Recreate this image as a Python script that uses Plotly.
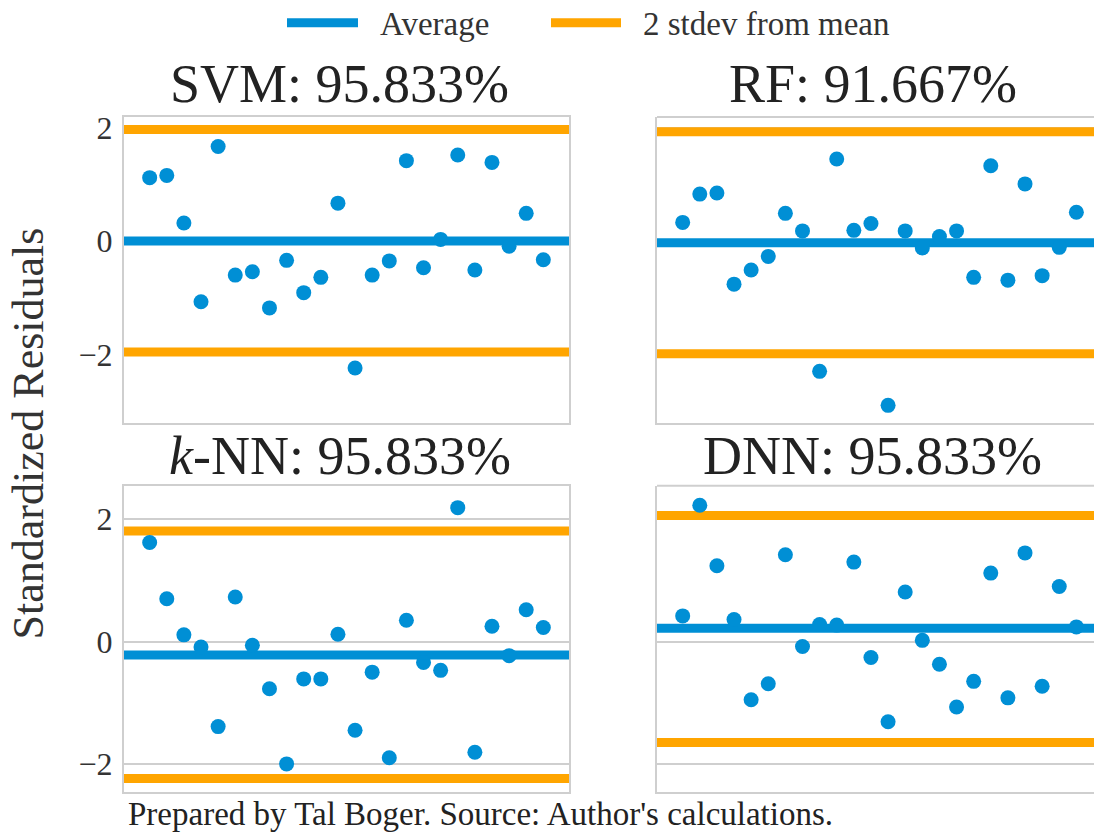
import plotly.graph_objects as go

W, H = 1094, 833
BLUE = "#008fd5"
ORANGE = "#ffa500"
GRID = "#cfcfcf"
FONT = "Liberation Serif, Times New Roman, serif"
TXT = "#2a2a2a"

obs = list(range(1, 25))

svm = [1.12, 1.16, 0.32, -1.07, 1.67, -0.60, -0.54, -1.18, -0.34, -0.91, -0.64, 0.67,
       -2.24, -0.60, -0.35, 1.42, -0.47, 0.03, 1.52, -0.51, 1.39, -0.09, 0.49, -0.33]
rf = [0.33, 0.83, 0.85, -0.76, -0.51, -0.27, 0.49, 0.18, -2.30, 1.45, 0.19, 0.31,
      -2.90, 0.18, -0.12, 0.08, 0.18, -0.64, 1.33, -0.69, 1.01, -0.61, -0.11, 0.51]
knn = [1.62, 0.70, 0.11, -0.09, -1.39, 0.73, -0.06, -0.77, -2.00, -0.61, -0.61, 0.12,
       -1.45, -0.50, -1.90, 0.35, -0.34, -0.47, 2.19, -1.81, 0.25, -0.23, 0.52, 0.23]
dnn = [0.42, 2.23, 1.24, 0.36, -0.95, -0.69, 1.42, -0.08, 0.28, 0.27, 1.30, -0.26,
       -1.31, 0.81, 0.02, -0.37, -1.07, -0.65, 1.12, -0.92, 1.45, -0.73, 0.90, 0.24]

titles = ["SVM: 95.833%", "RF: 91.667%", "<i>k</i>-NN: 95.833%", "DNN: 95.833%"]
averages = [0.00, -0.03, -0.22, 0.22]
upper = [1.97, 1.93, 1.81, 2.06]
lower = [-1.96, -1.99, -2.24, -1.65]
ytick_vals = [-2, 0, 2]
ytick_text = ["−2", "0", "2"]

series = [svm, rf, knn, dnn]


def px_x(p):
    return p / W


def px_y(p):
    return 1 - p / H


xdom = [[px_x(124), px_x(569)], [px_x(657), 1.0]]
ydom = [[px_y(420), px_y(111)], [px_y(791.7), px_y(482.7)]]
xranges = [[-0.5, 25.5], [-0.5, 25.03]]
yranges = [[-3.22, 2.19], [-2.46, 2.55]]

fig = go.Figure()
layout = dict(width=W, height=H, margin=dict(l=0, r=0, t=0, b=0),
              paper_bgcolor="white", plot_bgcolor="white", showlegend=False,
              font=dict(family=FONT, color=TXT))
shapes = []
annotations = []

for i, vals in enumerate(series):
    r, c = divmod(i, 2)
    n = i + 1
    xa = "xaxis" if n == 1 else f"xaxis{n}"
    ya = "yaxis" if n == 1 else f"yaxis{n}"
    xr = "x" if n == 1 else f"x{n}"
    yr = "y" if n == 1 else f"y{n}"
    layout[xa] = dict(domain=xdom[c], range=xranges[c], showgrid=False, zeroline=False,
                      showticklabels=False, ticks="", anchor=yr,
                      showline=True, linecolor=GRID, linewidth=2,
                      mirror=True if c == 0 else False)
    layout[ya] = dict(domain=ydom[r], range=yranges[r], tickvals=ytick_vals,
                      ticktext=ytick_text, showticklabels=(c == 0),
                      showgrid=True, gridcolor=GRID, gridwidth=2, zeroline=False,
                      anchor=xr, showline=True, linecolor=GRID, linewidth=2,
                      mirror=True if c == 0 else False,
                      tickfont=dict(family=FONT, size=32, color="#333333"),
                      ticks="", ticklabelstandoff=3)
    if c == 1:
        shapes.append(dict(type="line", xref=f"{xr} domain", yref=f"{yr} domain",
                           x0=0, x1=1, y0=1, y1=1, line=dict(color=GRID, width=2),
                           layer="below"))
    for val, col in [(upper[i], ORANGE), (lower[i], ORANGE), (averages[i], BLUE)]:
        fig.add_trace(go.Scatter(x=xranges[c], y=[val, val], mode="lines",
                                 xaxis=xr, yaxis=yr, line=dict(color=col, width=9),
                                 showlegend=False, hoverinfo="skip"))
    fig.add_trace(go.Scatter(x=obs, y=vals, mode="markers", xaxis=xr, yaxis=yr,
                             marker=dict(color=BLUE, size=15, line=dict(width=0)),
                             showlegend=False, cliponaxis=False))
    cx = (xdom[c][0] + (px_x(1102) if c == 1 else xdom[c][1])) / 2 - px_x(7)
    cy = px_y(78 if r == 0 else 453)
    annotations.append(dict(text=titles[i], x=cx, y=cy, xref="paper", yref="paper",
                            xanchor="center", yanchor="middle", showarrow=False,
                            font=dict(family=FONT, size=54, color="#222222")))

# legend (manual)
shapes.append(dict(type="line", xref="paper", yref="paper", x0=px_x(287), x1=px_x(358),
                   y0=px_y(16), y1=px_y(16), line=dict(color=BLUE, width=9)))
shapes.append(dict(type="line", xref="paper", yref="paper", x0=px_x(551), x1=px_x(621),
                   y0=px_y(16), y1=px_y(16), line=dict(color=ORANGE, width=9)))
annotations.append(dict(text="Average", x=px_x(378), y=px_y(17), xref="paper", yref="paper",
                        xanchor="left", yanchor="middle", showarrow=False,
                        font=dict(family=FONT, size=33, color="#333333")))
annotations.append(dict(text="2 stdev from mean", x=px_x(641), y=px_y(17), xref="paper",
                        yref="paper", xanchor="left", yanchor="middle", showarrow=False,
                        font=dict(family=FONT, size=33, color="#333333")))
annotations.append(dict(text="Standardized Residuals", x=px_x(28), y=px_y(430), xref="paper",
                        yref="paper", xanchor="center", yanchor="middle", textangle=-90,
                        showarrow=False, font=dict(family=FONT, size=44, color="#333333")))
annotations.append(dict(text="Prepared by Tal Boger. Source: Author's calculations.",
                        x=px_x(126), y=px_y(814), xref="paper", yref="paper",
                        xanchor="left", yanchor="middle", showarrow=False,
                        font=dict(family=FONT, size=33, color="#222222")))

layout["shapes"] = shapes
layout["annotations"] = annotations
fig.update_layout(**layout)
fig.write_html("out.html")
